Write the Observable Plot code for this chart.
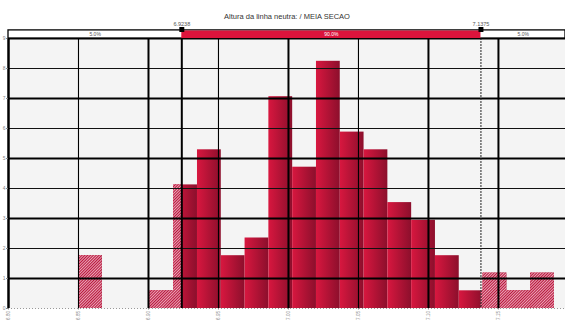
<!DOCTYPE html>
<html><head><meta charset="utf-8">
<script src="https://cdn.jsdelivr.net/npm/d3@7"></script>
<script src="https://cdn.jsdelivr.net/npm/@observablehq/plot@0.6"></script>
<style>
html,body{margin:0;padding:0;background:#fff;}
#chart svg{display:block;font-family:"Liberation Sans",Arial,sans-serif;}
</style></head><body><div id="chart"></div>
<script>
const title = "Altura da linha neutra: / MEIA SECAO";
const binEdges = [6.850, 6.867, 6.884, 6.901, 6.918, 6.935, 6.952, 6.969, 6.986, 7.003, 7.020,
                  7.037, 7.054, 7.071, 7.088, 7.105, 7.122, 7.139, 7.156, 7.173, 7.190];
const densities = [1.76, 0, 0, 0.59, 4.12, 5.29, 1.76, 2.35, 7.06, 4.71,
                   8.24, 5.88, 5.29, 3.53, 2.94, 1.76, 0.59, 1.18, 0.59, 1.18];
const lowerMarker = 6.9238;
const upperMarker = 7.1375;
const markerLabels = ["6.9238", "7.1375"];
const bandLabels = ["5.0%", "90.0%", "5.0%"];
const xDomain = [6.80, 7.1979];
const xTicks = [6.80, 6.85, 6.90, 6.95, 7.00, 7.05, 7.10, 7.15];
const yTicks = [0, 1, 2, 3, 4, 5, 6, 7, 8, 9];
const yDomain = [0, 9];

const bins = densities.map((y, i) => ({x1: binEdges[i], x2: binEdges[i + 1], y})).filter(d => d.y > 0);
const hatched = [];
for (const b of bins) {
  if (b.x1 < lowerMarker) hatched.push({x1: b.x1, x2: Math.min(b.x2, lowerMarker), y: b.y});
  if (b.x2 > upperMarker) hatched.push({x1: Math.max(b.x1, upperMarker), x2: b.x2, y: b.y});
}
const thickY = yTicks.filter(v => v % 2 === 1);
const thinY = yTicks.filter(v => v > 0 && v % 2 === 0);
const thickX = [6.90, 7.00, 7.10, 7.15];
const thinX = [6.85, 6.95, 7.05];
const bandY = [9.0, 9.27];
const bandText = [
  {x: (xDomain[0] + lowerMarker) / 2, t: bandLabels[0], c: "#555"},
  {x: (lowerMarker + upperMarker) / 2, t: bandLabels[1], c: "#fff"},
  {x: (upperMarker + xDomain[1]) / 2, t: bandLabels[2], c: "#555"}
];
const markers = [{x: lowerMarker, t: markerLabels[0]}, {x: upperMarker, t: markerLabels[1]}];

const plot = Plot.plot({
  width: 565, height: 322,
  marginLeft: 8, marginRight: 0, marginTop: 38, marginBottom: 14,
  x: {domain: xDomain},
  y: {domain: yDomain},
  style: {fontFamily: "Liberation Sans, Arial, sans-serif", background: "#fff"},
  marks: [
    Plot.frame({fill: "#f4f4f4"}),
    Plot.rect(bins, {x1: "x1", x2: "x2", y1: 0, y2: "y", fill: "url(#barGrad)"}),
    Plot.rect(hatched, {x1: "x1", x2: "x2", y1: 0, y2: "y", fill: "url(#hatch)"}),
    Plot.ruleY([0], {stroke: "#999", strokeDasharray: "1,2"}),
    Plot.ruleY(thinY, {stroke: "#111", strokeWidth: 1}),
    Plot.ruleY(thickY, {stroke: "#000", strokeWidth: 2.2}),
    Plot.ruleX(thinX, {stroke: "#000", strokeWidth: 1.1}),
    Plot.ruleX(thickX, {stroke: "#000", strokeWidth: 2}),
    Plot.ruleX([xDomain[0]], {stroke: "#000", strokeWidth: 2.5}),
    Plot.ruleX([lowerMarker], {stroke: "#000", strokeWidth: 2}),
    Plot.ruleX([upperMarker], {stroke: "#222", strokeWidth: 1, strokeDasharray: "2,1"}),
    Plot.axisX(xTicks, {label: null, tickFormat: d3.format(".2f"), tickRotate: -90, tickSize: 1.5, tickPadding: 1, fontSize: 4.6, color: "#888"}),
    Plot.axisY(yTicks, {label: null, tickSize: 2, tickPadding: 1, fontSize: 5, color: "#888"}),
    // top band
    Plot.rect([0], {x1: xDomain[0], x2: xDomain[1], y1: bandY[0], y2: bandY[1], fill: "#fff", stroke: "#000", strokeWidth: 1.3}),
    Plot.rect([0], {x1: lowerMarker, x2: upperMarker, y1: bandY[0], y2: bandY[1] - 0.02, fill: "#dc143c"}),
    Plot.text(bandText, {x: "x", y: 9.14, text: "t", fill: "c", fontSize: 5}),
    Plot.dot(markers, {x: "x", y: 9.3, symbol: "square", r: 2.8, fill: "#000"}),
    Plot.text(markers, {x: "x", y: 9.47, text: "t", fontSize: 5.5, fill: "#555"}),
    Plot.text([title], {frameAnchor: "top", dy: -25, text: d => d, fontSize: 7.5, fill: "#333"})
  ]
});

const svg = d3.select(plot);
const defs = svg.insert("defs", ":first-child");
const g = defs.append("linearGradient").attr("id", "barGrad").attr("x1", 0).attr("x2", 1).attr("y1", 0).attr("y2", 0);
g.append("stop").attr("offset", "0%").attr("stop-color", "#d8173f");
g.append("stop").attr("offset", "100%").attr("stop-color", "#8c0f2c");
const p = defs.append("pattern").attr("id", "hatch").attr("patternUnits", "userSpaceOnUse")
  .attr("width", 2).attr("height", 2).attr("patternTransform", "rotate(45)");
p.append("rect").attr("width", 2).attr("height", 2).attr("fill", "#f0b8c6");
p.append("rect").attr("width", 1.1).attr("height", 2).attr("fill", "#b8133a");
document.getElementById("chart").appendChild(plot);
</script>
</body></html>
